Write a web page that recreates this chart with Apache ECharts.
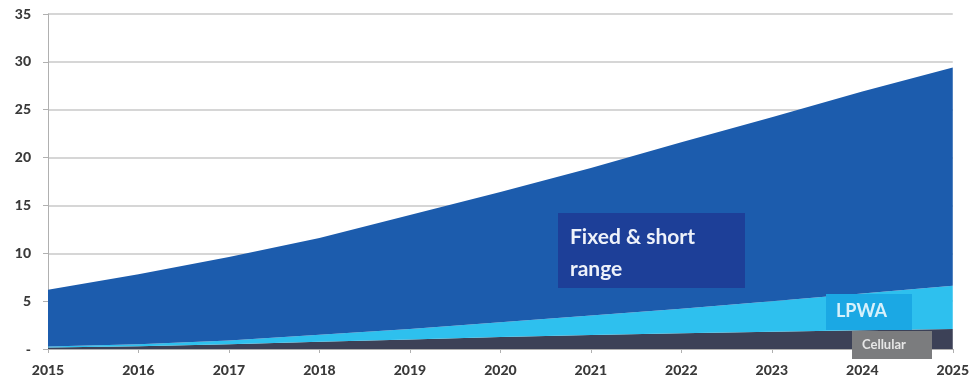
<!DOCTYPE html>
<html><head><meta charset="utf-8">
<script src="https://cdn.jsdelivr.net/npm/echarts@6/dist/echarts.min.js"></script>
<style>html,body{margin:0;padding:0;background:#fff}#c{width:972px;height:382px}</style>
</head><body><div id="c"></div>
<script>
var years = ['2015','2016','2017','2018','2019','2020','2021','2022','2023','2024','2025'];
var cellular = [0.15,0.3,0.5,0.75,1.0,1.25,1.45,1.65,1.8,1.95,2.1];
var lpwa = [0.1,0.2,0.4,0.75,1.1,1.55,2.05,2.55,3.2,3.85,4.5];
var fixedShort = [5.95,7.3,8.7,10.1,11.9,13.6,15.4,17.4,19.2,21.1,22.8];
var yTicks = [0,5,10,15,20,25,30,35];

var chart = echarts.init(document.getElementById('c'));
var lbl = {fontFamily:'Lato', fontWeight:900, fontSize:14, color:'#3a3a3a'};
function mkSeries(name, data, color){
  return {name:name, type:'line', stack:'t', data:data, symbol:'none', smooth:false,
    lineStyle:{width:0}, areaStyle:{color:color, opacity:1}, itemStyle:{color:color}};
}
chart.setOption({
  animation:false,
  grid:{left:48, right:10, top:14, bottom:33},
  xAxis:{type:'category', data:years, boundaryGap:false,
    axisLine:{show:true, lineStyle:{color:'#b0b0b0'}},
    axisTick:{show:true, length:4, lineStyle:{color:'#b0b0b0'}},
    axisLabel:Object.assign({margin:14}, lbl)},
  yAxis:{type:'value', min:0, max:35, interval:5,
    axisLine:{show:true, lineStyle:{color:'#b0b0b0'}},
    axisTick:{show:true, length:5, lineStyle:{color:'#b0b0b0'}},
    splitLine:{show:true, lineStyle:{color:'#c8c8c8', width:1.5}},
    axisLabel:Object.assign({margin:17, formatter:function(v){return v===0?'-':(yTicks.indexOf(v)>=0?String(v):'');}}, lbl)},
  series:[
    mkSeries('Cellular', cellular, '#3c4157'),
    mkSeries('LPWA', lpwa, '#2ec0ee'),
    mkSeries('Fixed & short range', fixedShort, '#1c5cad')
  ],
  graphic:[
    {type:'rect', shape:{x:558,y:213,width:187,height:75}, style:{fill:'#1d3f98'}, z:10},
    {type:'text', x:570, y:221, z:11, style:{text:'Fixed & short\nrange', fill:'#eef2fa', font:'bold 21px Lato', lineHeight:32}},
    {type:'rect', shape:{x:826,y:294,width:86,height:36}, style:{fill:'#1ba8e4'}, z:10},
    {type:'text', x:836, y:302, z:11, style:{text:'LPWA', fill:'#d8f1fb', font:'bold 18px Lato'}},
    {type:'rect', shape:{x:852,y:331,width:80,height:28}, style:{fill:'#7b7c7e'}, z:10},
    {type:'text', x:862, y:338, z:11, style:{text:'Cellular', fill:'#e6e6e6', font:'bold 13px Lato'}}
  ]
});
</script></body></html>
